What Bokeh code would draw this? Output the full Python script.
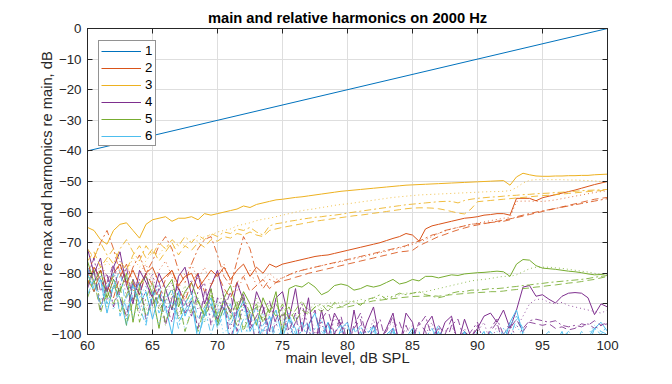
from bokeh.plotting import figure
from bokeh.models import LinearAxis, Legend, LegendItem, Range1d, FixedTicker
from bokeh.embed import file_html
from bokeh.resources import INLINE

# ---------------- data ----------------
LEVEL = [60.0, 60.5, 61.0, 61.5, 62.0, 62.5, 63.0, 63.5, 64.0, 64.5,
         65.0, 65.5, 66.0, 66.5, 67.0, 67.5, 68.0, 68.5, 69.0, 69.5,
         70.0, 70.5, 71.0, 71.5, 72.0, 72.5, 73.0, 73.5, 74.0, 74.5,
         75.0, 75.5, 76.0, 76.5, 77.0, 77.5, 78.0, 78.5, 79.0, 79.5,
         80.0, 80.5, 81.0, 81.5, 82.0, 82.5, 83.0, 83.5, 84.0, 84.5,
         85.0, 85.5, 86.0, 86.5, 87.0, 87.5, 88.0, 88.5, 89.0, 89.5,
         90.0, 90.5, 91.0, 91.5, 92.0, 92.5, 93.0, 93.5, 94.0, 94.5,
         95.0, 95.5, 96.0, 96.5, 97.0, 97.5, 98.0, 98.5, 99.0, 99.5,
         100.0]

MAIN_LEVEL = [60, 100]
MAIN_DB = [-40, 0]

# harmonic 2
H2_SOLID = [-84, -78, -82, -86, -80, -77, -83, -79, -84, -80,
            -78, -83, -81, -79, -84, -81, -80, -85, -82, -79,
            -81, -78, -82, -79, -77, -81, -78, -80, -77, -78,
            -77, -76.5, -76, -75.5, -75, -74.5, -74.2, -74, -73.5, -73,
            -72.5, -72, -71.5, -71, -70.5, -70, -69.3, -68.6, -68, -67,
            -67.5, -69.5, -65.5, -64.5, -64, -63.5, -63, -62.5, -62, -61.8,
            -61.5, -61, -60.8, -60.5, -60.5, -61, -55.5, -55.5, -55.5, -56.3,
            -55.3, -54.8, -54.3, -53.8, -53.3, -52.8, -52.2, -51.6, -51, -50.5,
            -50]
H2_DOT = [-79, -83, -77, -81, -85, -78, -82, -86, -80, -77,
          -83, -79, -76, -81, -85, -80, -77, -82, -78, -84,
          -80, -77, -83, -86, -81, -79, -84, -82, -80, -82,
          -81.5, -80.5, -79.8, -79, -78.5, -78, -77.5, -77, -76.6, -76.2,
          -75.8, -75.3, -74.8, -74.3, -73.8, -73.3, -72.8, -72.3, -71.8, -71.2,
          -70.6, -69.8, -69, -68, -67, -66.2, -65.5, -65, -64.5, -64,
          -63.6, -63.2, -62.8, -62.4, -62, -61.8, -56.5, -56.4, -56.4, -56.5,
          -56.5, -56.3, -56, -55.6, -55.2, -54.8, -54.4, -54, -53.6, -53.3,
          -53]
H2_DASHDOT = [-80, -75, -70, -66, -72, -80, -84, -78, -74, -80,
              -76, -71, -68, -72, -79, -83, -77, -72, -69, -68,
              -74, -81, -84, -76, -68, -72, -80, -85, -82, -83,
              -81.5, -80.5, -79.5, -79, -78.5, -78, -77.5, -77, -76.5, -76,
              -75.5, -75, -74.5, -74, -73.5, -73, -72.5, -72, -71.5, -71,
              -70, -69.5, -68.5, -67.5, -67, -66, -65.5, -65, -64.5, -64,
              -63.8, -63.6, -63.4, -63.2, -63, -62.5, -61.5, -61, -60.5, -60,
              -59.6, -59.2, -58.8, -58.4, -58, -57.6, -57.2, -56.8, -56.4, -56,
              -55.6]
H2_DASH = [-82, -86, -79, -84, -88, -81, -77, -83, -87, -80,
           -84, -88, -82, -79, -85, -89, -83, -80, -86, -84,
           -80, -85, -88, -83, -81, -86, -84, -82, -85, -83,
           -82.5, -82, -81.3, -80.7, -80, -79.5, -79, -78.5, -78, -77.5,
           -77, -76.5, -76, -75.5, -75, -74.5, -74, -73.5, -73, -72.8,
           -72.5, -71, -70, -69, -68, -67.3, -66.5, -65.8, -65.2, -64.6,
           -64.2, -63.8, -63.4, -63, -62.6, -62.2, -61.8, -61.3, -60.8, -60.3,
           -59.8, -59.3, -58.8, -58.3, -57.8, -57.3, -56.8, -56.3, -55.8, -55.5,
           -55.2]

# harmonic 3
H3_SOLID = [-65, -66, -69, -70.5, -66, -64, -63.5, -66, -68.5, -64,
            -62.5, -62, -61.5, -63, -62, -62, -61.5, -62.5, -60.5, -61,
            -60.5, -60, -59.5, -59, -58, -58.5, -57.5, -57, -56.5, -56,
            -55.8, -55.5, -55.2, -55, -54.7, -54.4, -54.1, -53.8, -53.5, -53.2,
            -53, -52.8, -52.6, -52.4, -52.2, -52, -51.8, -51.6, -51.4, -51.2,
            -51.1, -51, -50.9, -50.8, -50.7, -50.6, -50.5, -50.4, -50.3, -50.2,
            -50.1, -50, -49.9, -49.8, -49.7, -51.2, -48.5, -47.3, -47.8, -48.2,
            -48.3, -48.3, -48.2, -48.2, -48.1, -48.1, -48, -48, -47.8, -47.7,
            -47.6]
H3_DOT = [-82, -78, -80, -76, -79, -77, -80, -75, -78, -76,
          -73, -74, -71, -72, -70, -71, -69, -69.5, -68, -67.5,
          -66.5, -66, -65.5, -64.5, -64, -63.5, -62.8, -62.3, -62, -61.5,
          -61, -60.5, -60, -59.5, -59.2, -58.9, -58.5, -58.2, -57.8, -57.5,
          -57.3, -57, -56.7, -56.4, -56.1, -55.8, -55.5, -55.2, -55, -54.8,
          -54.6, -54.4, -54.3, -54.2, -54.1, -54, -53.9, -53.8, -53.7, -53.6,
          -53.5, -53.4, -53.3, -53.3, -53.2, -53, -52, -50.5, -49.6, -49.4,
          -49.4, -49.4, -49.4, -49.4, -49.5, -49.5, -49.6, -49.7, -49.8, -50,
          -50.2]
H3_DASHDOT = [-72, -75, -70, -74, -77, -72, -69, -73, -76, -71,
              -74, -70, -72, -69, -71, -68, -70, -67.5, -69, -67,
              -68, -66.5, -67, -65.5, -66, -65, -66.5, -67.5, -64.5, -63.8,
              -63.5, -63, -62.7, -62.3, -62, -61.7, -61.5, -61.2, -61, -60.7,
              -60.3, -60, -59.7, -59.4, -59.1, -58.8, -58.5, -58.2, -57.9, -57.6,
              -57.4, -57.2, -57, -56.8, -56.6, -56.5, -56.5, -57, -56.2, -55.8,
              -55.5, -55.3, -55.1, -55, -54.8, -54.6, -54.5, -54.3, -54.2, -54,
              -53.9, -53.8, -53.6, -53.5, -53.3, -53.2, -53, -52.9, -52.8, -52.7,
              -52.6]
H3_DASH = [-76, -73, -78, -75, -72, -76, -79, -74, -71, -75,
           -72, -76, -73, -70, -74, -71, -72.5, -70, -71.5, -69,
           -69.5, -68, -68.5, -67, -67.5, -66.5, -67.5, -68, -66, -65.5,
           -65, -64.6, -64.2, -63.8, -63.4, -63, -62.7, -62.4, -62.1, -61.8,
           -61.5, -61.2, -61, -60.7, -60.4, -60.1, -59.8, -59.5, -59.2, -58.9,
           -58.7, -58.6, -58.6, -58.7, -58.9, -59.3, -59.8, -60.3, -60.6, -59,
           -56.6, -56.4, -56.2, -56, -55.8, -55.6, -55.4, -55.2, -55, -54.8,
           -54.6, -54.5, -54.3, -54.1, -53.9, -53.7, -53.5, -53.3, -53.1, -53,
           -52.8]

# harmonic 4
H4_SOLID = [-72, -80, -75, -86, -78, -73, -84, -90, -79, -83,
            -88, -80, -85, -92, -81, -78, -87, -80, -90, -84,
            -79, -88, -93, -83, -89, -97, -86, -91, -99, -88,
            -86, -95, -85, -99, -88, -104, -92, -101, -93, -97,
            -105, -92, -103, -96, -91, -102, -98, -93, -104, -93,
            -96, -106, -97, -94, -102, -96, -94, -103, -95, -101,
            -98, -94, -93, -96, -92, -98, -92, -84.5, -84, -87.5,
            -87, -88.5, -89.7, -87.5, -86.5, -86.3, -86.5, -88, -93.5, -90,
            -91]
H4_DOT = [-77, -84, -79, -89, -82, -76, -88, -83, -93, -85,
          -80, -91, -86, -83, -94, -87, -82, -92, -89, -85,
          -93, -88, -98, -90, -87, -96, -91, -101, -93, -89,
          -98, -94, -103, -95, -91, -100, -96, -104, -94, -99,
          -96, -106, -97, -101, -95, -103, -98, -96, -105, -99,
          -97, -103, -100, -96, -104, -99, -97, -102, -98, -104,
          -99, -96, -103, -97, -100, -96, -98, -94, -90, -88.5,
          -88.5, -89.5, -90, -89.5, -90.5, -91, -91.5, -92, -92.5, -93,
          -92]
H4_DASHDOT = [-81, -75, -86, -80, -91, -84, -78, -89, -82, -95,
              -87, -83, -90, -96, -85, -89, -94, -86, -83, -97,
              -88, -92, -86, -99, -90, -94, -103, -92, -89, -97,
              -93, -101, -96, -90, -98, -105, -95, -92, -100, -96,
              -104, -97, -93, -101, -99, -95, -103, -98, -96, -102,
              -100, -97, -94, -101, -98, -104, -97, -95, -102, -99,
              -96, -103, -98, -95, -100, -97, -101, -98, -95.5, -95,
              -95.5, -96, -95.5, -97, -97.5, -97, -97.5, -96.5, -98, -97,
              -96.5]
H4_DASH = [-85, -79, -92, -83, -77, -88, -94, -82, -87, -80,
           -91, -85, -97, -88, -84, -93, -89, -98, -86, -91,
           -95, -89, -102, -92, -87, -98, -94, -90, -104, -95,
           -91, -99, -93, -106, -97, -92, -102, -96, -100, -94,
           -103, -98, -95, -105, -97, -101, -99, -94, -103, -97,
           -102, -96, -99, -104, -97, -100, -95, -103, -99, -101,
           -97, -102, -99, -96, -104, -98, -95, -99, -96, -96.5,
           -97, -96.5, -98, -97.5, -98.5, -98, -96.5, -97, -95.5, -97,
           -96]

# harmonic 5
H5_SOLID = [-76, -83, -79, -88, -82, -86, -80, -96, -84, -81,
            -87, -98, -85, -82, -91, -86, -83, -89, -94, -85,
            -96, -88, -84, -92, -86, -90, -97, -88, -93, -86,
            -100, -85, -84, -84.5, -83, -84.5, -87, -86, -84, -83.5,
            -84, -85.5, -85, -84, -84.5, -84, -83, -82, -83.5, -83,
            -82, -82.5, -81, -81, -81.5, -81, -80.5, -80.7, -80.2, -80,
            -79.8, -79.7, -79.5, -79.3, -79.5, -81, -77, -75.5, -75.7, -77.5,
            -78.3, -78.5, -78.7, -79, -79.3, -79.5, -79.8, -80.2, -80.5, -80.4,
            -80]
H5_DOT = [-80, -86, -78, -91, -84, -88, -95, -83, -87, -92,
          -85, -90, -97, -86, -89, -84, -93, -88, -96, -87,
          -91, -86, -94, -89, -98, -92, -88, -95, -90, -93,
          -92, -91, -94, -90.5, -92, -90, -91.5, -89.5, -90, -89.5,
          -89, -89.5, -88.5, -89, -88, -88.5, -87.5, -87.8, -87, -86.5,
          -86.5, -86.2, -86, -85.5, -85, -84.5, -84, -83.5, -83, -82.5,
          -82.2, -82, -81.7, -81.3, -81, -81, -80.5, -79.5, -78.5, -78,
          -78, -78, -78.2, -78.4, -78.7, -79, -79.3, -79.6, -80, -80.3,
          -80.5]
H5_DASHDOT = [-84, -79, -90, -85, -81, -93, -87, -82, -96, -88,
              -83, -92, -89, -85, -95, -90, -86, -99, -91, -87,
              -94, -89, -92, -97, -88, -93, -90, -96, -91, -94,
              -90, -95, -92, -89, -93, -91, -90, -92.5, -89.5, -91,
              -90, -89, -90.5, -88.5, -88, -87, -88.5, -87.5, -86.5, -87,
              -86.5, -86, -87, -87.5, -88, -87.5, -86.5, -86, -86, -85.5,
              -85.5, -85.3, -85, -85, -84.8, -84.5, -84.3, -84, -83.8, -83.5,
              -83.3, -83, -82.8, -82.6, -82.4, -82.2, -82, -81.7, -81.3, -81,
              -80.7]
H5_DASH = [-88, -82, -93, -86, -90, -84, -97, -89, -85, -94,
           -90, -87, -96, -91, -88, -99, -92, -89, -94, -90,
           -97, -91, -95, -89, -99, -93, -91, -96, -92, -90,
           -94, -91, -96, -92, -93.5, -91, -92.5, -90.5, -91.5, -91,
           -91, -90.5, -90, -89.5, -89, -88.8, -88.5, -88.3, -88, -87.8,
           -87.6, -87.5, -87.5, -87.3, -87.5, -87.2, -87, -86.8, -86.6, -86.4,
           -86.3, -86.2, -86, -86, -85.8, -85.5, -85.3, -85, -84.8, -84.5,
           -84.3, -84, -83.8, -83.5, -83.2, -83, -82.7, -82.3, -82, -81.5,
           -81]

# harmonic 6
H6_SOLID = [-80, -86, -82, -93, -84, -88, -97, -83, -90, -86,
            -95, -87, -91, -100, -86, -94, -89, -102, -92, -88,
            -97, -91, -104, -93, -89, -99, -95, -104, -96, -92,
            -101, -95, -98, -106, -97, -93, -102, -96, -104, -98,
            -96, -105, -99, -103, -97, -107, -100, -98, -104, -101,
            -98, -106, -100, -103, -99, -107, -101, -104, -99, -106,
            -102, -99, -105, -101, -103, -96, -92, -100, -104, -102,
            -106, -101, -103, -99, -105, -102, -100, -104, -98, -96,
            -99]
H6_DOT = [-84, -80, -89, -83, -92, -86, -81, -95, -88, -84,
          -90, -97, -87, -92, -85, -99, -91, -88, -96, -93,
          -89, -101, -94, -98, -91, -103, -97, -93, -100, -95,
          -104, -98, -94, -101, -97, -105, -99, -96, -103, -100,
          -97, -104, -101, -98, -106, -100, -103, -99, -105, -102,
          -100, -104, -101, -98, -105, -103, -100, -106, -102, -101,
          -104, -100, -103, -99, -101, -98, -97, -101, -103, -100,
          -104, -102, -100, -103, -99, -101, -104, -100, -97, -99,
          -98]
H6_DASHDOT = [-78, -85, -81, -90, -84, -79, -92, -87, -83, -96,
              -88, -84, -93, -89, -98, -90, -86, -95, -91, -100,
              -93, -89, -97, -92, -102, -95, -91, -99, -94, -104,
              -97, -93, -100, -96, -103, -98, -95, -102, -99, -97,
              -104, -100, -97, -103, -99, -106, -101, -98, -104, -100,
              -103, -99, -106, -101, -97, -104, -102, -100, -105, -101,
              -99, -103, -100, -104, -98, -101, -95, -99, -102, -104,
              -101, -99, -104, -102, -100, -103, -99, -101, -98, -100,
              -97]
H6_DASH = [-87, -82, -91, -85, -80, -94, -88, -84, -91, -97,
           -86, -93, -89, -85, -96, -92, -88, -101, -94, -90,
           -98, -93, -90, -100, -95, -92, -104, -97, -94, -101,
           -99, -95, -103, -98, -96, -105, -100, -97, -102, -99,
           -101, -98, -105, -100, -97, -103, -101, -99, -106, -102,
           -99, -104, -101, -98, -103, -100, -105, -102, -99, -104,
           -101, -104, -99, -102, -100, -97, -94, -98, -103, -100,
           -103, -100, -105, -101, -99, -102, -104, -100, -98, -99,
           -100]

LEGEND_LABELS = ["1", "2", "3", "4", "5", "6"]
X_TICKS = [60, 65, 70, 75, 80, 85, 90, 95, 100]
Y_TICKS = [0, -10, -20, -30, -40, -50, -60, -70, -80, -90, -100]

# ---------------- styling ----------------
FONT = "Liberation Sans"
AX = "#262626"
C_BLUE = "#0072BD"
C_ORANGE = "#D95319"
C_YELLOW = "#EDB120"
C_PURPLE = "#7E2F8E"
C_GREEN = "#77AC30"
C_CYAN = "#4DBEEE"

p = figure(width=656, height=368,
           x_range=Range1d(60, 100), y_range=Range1d(-100, 0),
           output_backend="svg", toolbar_location=None,
           min_border_left=87, min_border_right=49,
           min_border_top=28, min_border_bottom=33,
           background_fill_color="white", border_fill_color="white")

p.title.text = "main and relative harmonics on 2000 Hz"
p.title.align = "center"
p.title.text_font = FONT
p.title.text_font_size = "14.7px"
p.title.text_font_style = "bold"
p.title.text_color = "black"
p.title.standoff = 6

p.outline_line_color = AX
p.outline_line_width = 1

for ax in (p.xaxis[0], p.yaxis[0]):
    ax.major_tick_in = 5
    ax.major_tick_out = 0
    ax.minor_tick_in = 0
    ax.minor_tick_out = 0
    ax.axis_line_color = AX
    ax.major_tick_line_color = AX
    ax.major_label_text_font = FONT
    ax.major_label_text_font_size = "13.3px"
    ax.major_label_text_color = AX
    ax.axis_label_text_font = FONT
    ax.axis_label_text_font_size = "14.7px"
    ax.axis_label_text_font_style = "normal"
    ax.axis_label_text_color = AX
    ax.major_label_standoff = 6

p.xaxis[0].ticker = FixedTicker(ticks=X_TICKS)
p.yaxis[0].ticker = FixedTicker(ticks=Y_TICKS)
p.xaxis[0].axis_label = "main level, dB SPL"
p.yaxis[0].axis_label = "main re max and harmonics re main, dB"
p.xaxis[0].axis_label_standoff = -3
p.yaxis[0].axis_label_standoff = -6

for loc, ticks in (("above", X_TICKS), ("right", Y_TICKS)):
    extra = LinearAxis(ticker=FixedTicker(ticks=ticks))
    extra.major_tick_in = 5
    extra.major_tick_out = 0
    extra.minor_tick_in = 0
    extra.minor_tick_out = 0
    extra.axis_line_color = AX
    extra.major_tick_line_color = AX
    extra.major_label_overrides = {t: "" for t in ticks}
    extra.major_label_standoff = 0
    p.add_layout(extra, loc)

p.xgrid.ticker = FixedTicker(ticks=X_TICKS)
p.ygrid.ticker = FixedTicker(ticks=Y_TICKS)
p.grid.grid_line_color = "#DEDEDE"
p.grid.grid_line_width = 1

# ---------------- lines ----------------
LW = 1
items = []
r = p.line(MAIN_LEVEL, MAIN_DB, line_color=C_BLUE, line_width=LW)
items.append(LegendItem(label=LEGEND_LABELS[0], renderers=[r]))

harmonics = [
    (C_ORANGE, H2_SOLID, H2_DOT, H2_DASHDOT, H2_DASH),
    (C_YELLOW, H3_SOLID, H3_DOT, H3_DASHDOT, H3_DASH),
    (C_PURPLE, H4_SOLID, H4_DOT, H4_DASHDOT, H4_DASH),
    (C_GREEN, H5_SOLID, H5_DOT, H5_DASHDOT, H5_DASH),
    (C_CYAN, H6_SOLID, H6_DOT, H6_DASHDOT, H6_DASH),
]
for i, (col, solid, dot, dd, dash) in enumerate(harmonics):
    r = p.line(LEVEL, solid, line_color=col, line_width=LW)
    items.append(LegendItem(label=LEGEND_LABELS[i + 1], renderers=[r]))

for col, solid, dot, dd, dash in harmonics:
    p.line(LEVEL, dot, line_color=col, line_width=LW, line_dash="1 3", line_alpha=0.8)
for col, solid, dot, dd, dash in harmonics:
    p.line(LEVEL, dd, line_color=col, line_width=LW, line_dash="7 3 2 3", line_alpha=0.85)
for col, solid, dot, dd, dash in harmonics:
    p.line(LEVEL, dash, line_color=col, line_width=LW, line_dash="7 4", line_alpha=0.85)

legend = Legend(items=items, location=(11, 188))
legend.label_text_font = FONT
legend.label_text_font_size = "13.3px"
legend.label_text_color = "black"
legend.glyph_width = 40
legend.glyph_height = 14
legend.label_height = 14
legend.label_width = 8
legend.label_standoff = 4
legend.spacing = 2
legend.padding = 2
legend.margin = 0
legend.border_line_color = AX
legend.border_line_width = 1
legend.background_fill_color = "white"
legend.background_fill_alpha = 1
p.add_layout(legend, "center")

open("out.html", "w").write(file_html(p, INLINE))
